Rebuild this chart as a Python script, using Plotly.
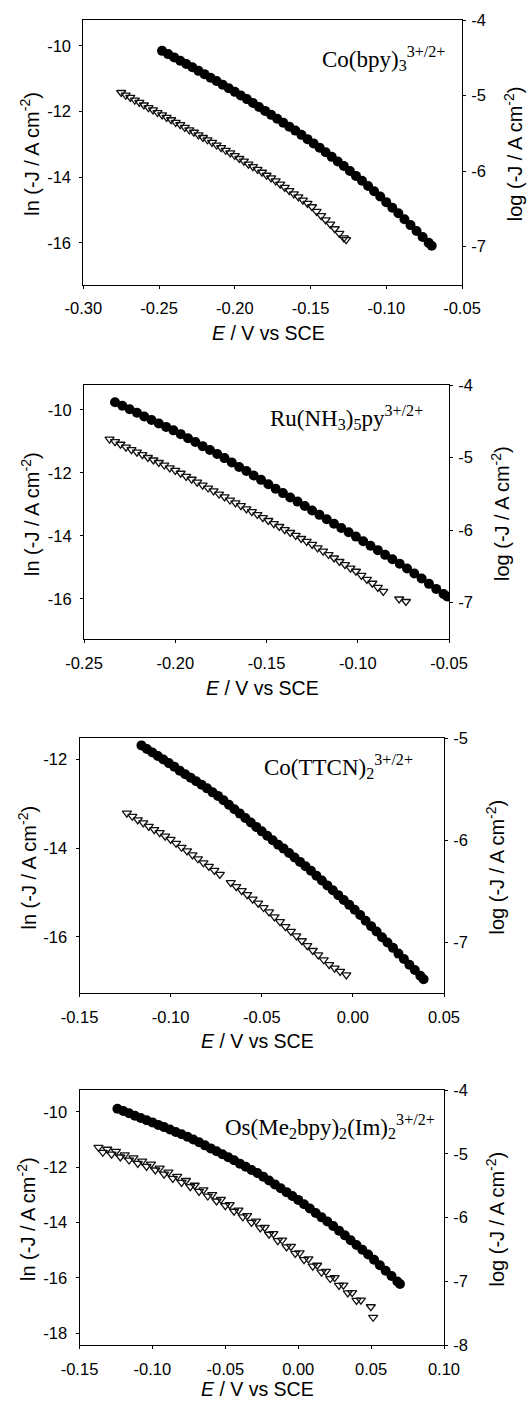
import math
import plotly.graph_objects as go

# ---------------- data ----------------
# Panel 1: Co(bpy)3
p1_circ_E = [-0.248, -0.244, -0.240, -0.236, -0.232, -0.228, -0.224, -0.220, -0.216, -0.212, -0.208, -0.204,
             -0.200, -0.196, -0.192, -0.188, -0.184, -0.180, -0.176, -0.172, -0.168, -0.164, -0.160, -0.156,
             -0.152, -0.148, -0.144, -0.140, -0.136, -0.132, -0.128, -0.124, -0.120, -0.116, -0.112, -0.108,
             -0.104, -0.100, -0.096, -0.092, -0.088, -0.084, -0.080, -0.076, -0.072, -0.070]
p1_circ_ln = [-10.15, -10.25, -10.35, -10.45, -10.55, -10.65, -10.76, -10.86, -10.97, -11.07, -11.18, -11.29,
              -11.40, -11.51, -11.62, -11.74, -11.86, -11.98, -12.10, -12.22, -12.34, -12.46, -12.58, -12.71,
              -12.84, -12.97, -13.10, -13.24, -13.38, -13.52, -13.66, -13.81, -13.96, -14.11, -14.27, -14.43,
              -14.59, -14.76, -14.93, -15.10, -15.28, -15.46, -15.64, -15.82, -16.00, -16.09]
p1_tri_E = [-0.275, -0.272, -0.269, -0.266, -0.263, -0.260, -0.257, -0.254, -0.251, -0.248, -0.245, -0.242,
            -0.239, -0.236, -0.233, -0.230, -0.227, -0.224, -0.221, -0.218, -0.215, -0.212, -0.209, -0.206,
            -0.203, -0.200, -0.197, -0.194, -0.191, -0.188, -0.185, -0.182, -0.179, -0.176, -0.173, -0.170,
            -0.167, -0.164, -0.161, -0.158, -0.155, -0.152, -0.149, -0.146, -0.143, -0.140, -0.137, -0.134,
            -0.131, -0.128, -0.1265]
p1_tri_ln = [-11.42, -11.50, -11.57, -11.65, -11.72, -11.80, -11.88, -11.95, -12.03, -12.10, -12.18, -12.25,
             -12.33, -12.40, -12.48, -12.56, -12.63, -12.71, -12.79, -12.86, -12.94, -13.02, -13.10, -13.18,
             -13.26, -13.34, -13.43, -13.51, -13.60, -13.68, -13.76, -13.85, -13.94, -14.02, -14.11, -14.21,
             -14.31, -14.41, -14.51, -14.60, -14.70, -14.80, -14.90, -15.04, -15.17, -15.30, -15.43, -15.57,
             -15.71, -15.85, -15.90]

# Panel 2: Ru(NH3)5py
p2_circ_E = [-0.233, -0.229, -0.225, -0.221, -0.217, -0.213, -0.209, -0.205, -0.201, -0.197, -0.193, -0.189,
             -0.185, -0.181, -0.177, -0.173, -0.169, -0.165, -0.161, -0.157, -0.153, -0.149, -0.145, -0.141,
             -0.137, -0.133, -0.129, -0.125, -0.121, -0.117, -0.113, -0.109, -0.105, -0.101, -0.097, -0.093,
             -0.089, -0.085, -0.081, -0.077, -0.073, -0.069, -0.065, -0.061, -0.057, -0.053, -0.051]
p2_circ_ln = [-9.76, -9.87, -9.98, -10.09, -10.21, -10.32, -10.43, -10.54, -10.65, -10.77, -10.90, -11.02,
              -11.15, -11.27, -11.40, -11.53, -11.67, -11.81, -11.94, -12.08, -12.22, -12.36, -12.50, -12.64,
              -12.78, -12.91, -13.05, -13.19, -13.33, -13.47, -13.61, -13.75, -13.88, -14.02, -14.17, -14.31,
              -14.45, -14.60, -14.74, -14.88, -15.03, -15.19, -15.35, -15.52, -15.68, -15.84, -15.92]
p2_tri_E = [-0.236, -0.233, -0.230, -0.227, -0.224, -0.221, -0.218, -0.215, -0.212, -0.209, -0.206, -0.203,
            -0.200, -0.197, -0.194, -0.191, -0.188, -0.185, -0.182, -0.179, -0.176, -0.173, -0.170, -0.167,
            -0.164, -0.161, -0.158, -0.155, -0.152, -0.149, -0.146, -0.143, -0.140, -0.137, -0.134, -0.131,
            -0.128, -0.125, -0.122, -0.119, -0.116, -0.113, -0.110, -0.107, -0.104, -0.101, -0.098, -0.095,
            -0.092, -0.089, -0.086, -0.0773, -0.0736]
p2_tri_ln = [-10.93, -11.01, -11.09, -11.18, -11.26, -11.34, -11.42, -11.51, -11.59, -11.67, -11.75, -11.84,
             -11.92, -12.01, -12.11, -12.20, -12.29, -12.39, -12.48, -12.57, -12.67, -12.76, -12.86, -12.95,
             -13.04, -13.14, -13.23, -13.32, -13.42, -13.51, -13.61, -13.70, -13.80, -13.89, -13.98, -14.08,
             -14.17, -14.27, -14.38, -14.48, -14.59, -14.70, -14.81, -14.91, -15.02, -15.12, -15.25, -15.38,
             -15.50, -15.63, -15.76, -16.00, -16.08]

# Panel 3: Co(TTCN)2
p3_circ_E = [-0.116, -0.113, -0.110, -0.107, -0.104, -0.101, -0.098, -0.095, -0.092, -0.089, -0.086, -0.083,
             -0.080, -0.077, -0.074, -0.071, -0.068, -0.065, -0.062, -0.059, -0.056, -0.053, -0.050, -0.047,
             -0.044, -0.041, -0.038, -0.035, -0.032, -0.029, -0.026, -0.023, -0.020, -0.017, -0.014, -0.011,
             -0.008, -0.005, -0.002, 0.001, 0.004, 0.007, 0.010, 0.013, 0.016, 0.019, 0.022, 0.025,
             0.028, 0.031, 0.034, 0.037, 0.0388]
p3_circ_ln = [-11.68, -11.76, -11.84, -11.92, -12.00, -12.08, -12.16, -12.25, -12.33, -12.41, -12.49, -12.57,
              -12.65, -12.74, -12.82, -12.92, -13.02, -13.12, -13.22, -13.32, -13.42, -13.52, -13.62, -13.72,
              -13.82, -13.92, -14.01, -14.11, -14.21, -14.31, -14.41, -14.51, -14.62, -14.73, -14.84, -14.95,
              -15.06, -15.17, -15.28, -15.39, -15.51, -15.64, -15.76, -15.88, -16.01, -16.13, -16.25, -16.38,
              -16.50, -16.63, -16.75, -16.88, -16.96]
p3_tri_E = [-0.124, -0.121, -0.118, -0.115, -0.112, -0.109, -0.106, -0.103, -0.100, -0.097, -0.094, -0.091,
            -0.088, -0.085, -0.082, -0.079, -0.076, -0.073, -0.067, -0.064, -0.061, -0.058, -0.055, -0.052,
            -0.049, -0.046, -0.043, -0.040, -0.037, -0.034, -0.031, -0.028, -0.025, -0.022, -0.019, -0.016,
            -0.013, -0.010, -0.007, -0.0036]
p3_tri_ln = [-13.21, -13.28, -13.36, -13.43, -13.51, -13.58, -13.65, -13.73, -13.80, -13.89, -13.98, -14.06,
             -14.15, -14.24, -14.33, -14.41, -14.50, -14.59, -14.78, -14.87, -14.96, -15.05, -15.15, -15.24,
             -15.34, -15.44, -15.55, -15.66, -15.77, -15.88, -15.98, -16.09, -16.20, -16.31, -16.41, -16.52,
             -16.63, -16.71, -16.78, -16.86]

# Panel 4: Os(Me2bpy)2(Im)2
p4_circ_E = [-0.124, -0.120, -0.116, -0.112, -0.108, -0.104, -0.100, -0.096, -0.092, -0.088, -0.084, -0.080,
             -0.076, -0.072, -0.068, -0.064, -0.060, -0.056, -0.052, -0.048, -0.044, -0.040, -0.036, -0.032,
             -0.028, -0.024, -0.020, -0.016, -0.012, -0.008, -0.004, 0.000, 0.004, 0.008, 0.012, 0.016,
             0.020, 0.024, 0.028, 0.032, 0.036, 0.040, 0.044, 0.048, 0.052, 0.056, 0.060, 0.064, 0.068, 0.0698]
p4_circ_ln = [-9.89, -9.97, -10.05, -10.14, -10.22, -10.30, -10.38, -10.47, -10.55, -10.64, -10.73, -10.81,
              -10.90, -11.00, -11.10, -11.21, -11.32, -11.42, -11.53, -11.64, -11.75, -11.87, -11.98, -12.10,
              -12.21, -12.34, -12.48, -12.62, -12.76, -12.90, -13.04, -13.18, -13.34, -13.49, -13.65, -13.81,
              -13.96, -14.12, -14.29, -14.46, -14.64, -14.81, -14.98, -15.15, -15.34, -15.54, -15.74, -15.93,
              -16.13, -16.22]
p4_tri_E = [-0.137, -0.134, -0.131, -0.128, -0.125, -0.122, -0.119, -0.116, -0.113, -0.110, -0.107, -0.104,
            -0.101, -0.098, -0.095, -0.092, -0.089, -0.086, -0.083, -0.080, -0.077, -0.074, -0.071, -0.068,
            -0.065, -0.062, -0.059, -0.056, -0.053, -0.050, -0.047, -0.044, -0.041, -0.038, -0.035, -0.032,
            -0.029, -0.026, -0.023, -0.020, -0.017, -0.014, -0.011, -0.008, -0.005, -0.002, 0.001, 0.004,
            0.007, 0.010, 0.013, 0.016, 0.019, 0.022, 0.025, 0.028, 0.031, 0.034, 0.037, 0.040, 0.043,
            0.0498, 0.0514]
p4_tri_ln = [-11.28, -11.46, -11.35, -11.53, -11.43, -11.63, -11.55, -11.74, -11.66, -11.86, -11.78, -11.97,
             -11.89, -12.10, -12.03, -12.25, -12.18, -12.40, -12.33, -12.55, -12.48, -12.70, -12.65, -12.87,
             -12.82, -13.04, -12.99, -13.22, -13.16, -13.39, -13.35, -13.59, -13.55, -13.79, -13.75, -13.99,
             -13.95, -14.19, -14.17, -14.42, -14.40, -14.65, -14.63, -14.88, -14.86, -15.11, -15.09, -15.34,
             -15.31, -15.57, -15.54, -15.79, -15.76, -16.02, -15.99, -16.27, -16.26, -16.54, -16.53, -16.81,
             -16.80, -17.04, -17.42]

# axis settings per panel
x_ranges = [[-0.30, -0.05], [-0.25, -0.05], [-0.15, 0.05], [-0.15, 0.10]]
x_ticks = [[-0.30, -0.25, -0.20, -0.15, -0.10, -0.05],
           [-0.25, -0.20, -0.15, -0.10, -0.05],
           [-0.15, -0.10, -0.05, 0.00, 0.05],
           [-0.15, -0.10, -0.05, 0.00, 0.05, 0.10]]
x_ticktext = [["-0.30", "-0.25", "-0.20", "-0.15", "-0.10", "-0.05"],
              ["-0.25", "-0.20", "-0.15", "-0.10", "-0.05"],
              ["-0.15", "-0.10", "-0.05", "0.00", "0.05"],
              ["-0.15", "-0.10", "-0.05", "0.00", "0.05", "0.10"]]
log_ranges = [[-7.5, -4.0], [-7.5, -4.0], [-7.5, -5.0], [-8.0, -4.0]]
ln_ticks = [[-10, -12, -14, -16], [-10, -12, -14, -16], [-12, -14, -16], [-10, -12, -14, -16, -18]]
log_ticks = [[-4, -5, -6, -7], [-4, -5, -6, -7], [-5, -6, -7], [-4, -5, -6, -7, -8]]
labels = ["Co(bpy)<sub>3</sub><sup>3+/2+</sup>",
          "Ru(NH<sub>3</sub>)<sub>5</sub>py<sup>3+/2+</sup>",
          "Co(TTCN)<sub>2</sub><sup>3+/2+</sup>",
          "Os(Me<sub>2</sub>bpy)<sub>2</sub>(Im)<sub>2</sub><sup>3+/2+</sup>"]

circ_E = [p1_circ_E, p2_circ_E, p3_circ_E, p4_circ_E]
circ_ln = [p1_circ_ln, p2_circ_ln, p3_circ_ln, p4_circ_ln]
tri_E = [p1_tri_E, p2_tri_E, p3_tri_E, p4_tri_E]
tri_ln = [p1_tri_ln, p2_tri_ln, p3_tri_ln, p4_tri_ln]

# ---------------- layout geometry (pixels) ----------------
W, H = 527, 1403
boxes = [(83.3, 462, 20, 284.5), (84, 449, 385, 639), (79.5, 444, 738, 993), (79.5, 444, 1090, 1345)]
xtitle_gap = [49, 49, 48, 44]
ytitle_left_x = [29.5, 30, 27, 26.5]
ytitle_right_x = [513, 500, 495, 495]
label_pos = [(320, 58), (268, 417), (262, 766), (223, 1126)]

def px(x):
    return x / W

def py(y):
    return 1 - y / H

LN10 = math.log(10)
SANS = "Liberation Sans, Arial, sans-serif"
SERIF = "Liberation Serif, Times New Roman, serif"

fig = go.Figure()
layout = dict(width=W, height=H, margin=dict(l=0, r=0, t=0, b=0, autoexpand=False),
              paper_bgcolor="white", plot_bgcolor="white", showlegend=False)
annotations = []
tickfont = dict(family=SANS, size=16.5, color="black")

for i in range(4):
    xl, xr, yt, yb = boxes[i]
    xname = "x" if i == 0 else f"x{i+1}"
    ylname = "y" if i == 0 else f"y{2*i+1}"
    yrname = f"y{2*i+2}"
    xkey = "xaxis" if i == 0 else f"xaxis{i+1}"
    ylkey = "yaxis" if i == 0 else f"yaxis{2*i+1}"
    yrkey = f"yaxis{2*i+2}"

    fig.add_trace(go.Scatter(x=tri_E[i], y=tri_ln[i], mode="markers", xaxis=xname, yaxis=ylname,
                             marker=dict(symbol="triangle-down-open", size=8, color="#111",
                                         line=dict(width=1.3, color="#111"))))
    fig.add_trace(go.Scatter(x=circ_E[i], y=circ_ln[i], mode="markers", xaxis=xname, yaxis=ylname,
                             marker=dict(symbol="circle", size=10, color="black",
                                         line=dict(width=0))))
    fig.add_trace(go.Scatter(x=[], y=[], mode="markers", xaxis=xname, yaxis=yrname, showlegend=False))

    lr = log_ranges[i]
    layout[xkey] = dict(domain=[px(xl), px(xr)], anchor=ylname, range=x_ranges[i],
                        tickvals=x_ticks[i], ticktext=x_ticktext[i], ticks="outside", ticklen=3,
                        tickcolor="black", showline=True, linecolor="black", linewidth=1, mirror=True,
                        showgrid=False, zeroline=False, ticklabelstandoff=6, tickfont=tickfont,
                        automargin=False)
    layout[ylkey] = dict(domain=[py(yb), py(yt)], anchor=xname, range=[lr[0] * LN10, lr[1] * LN10],
                         tickvals=ln_ticks[i], ticktext=[str(v) for v in ln_ticks[i]],
                         ticks="outside", ticklen=3, tickcolor="black", showline=True, linecolor="black",
                         linewidth=1, showgrid=False, zeroline=False, ticklabelstandoff=5,
                         tickfont=tickfont, automargin=False)
    layout[yrkey] = dict(domain=[py(yb), py(yt)], anchor=xname, overlaying=ylname, side="right",
                         range=lr, tickvals=log_ticks[i], ticktext=[str(v) for v in log_ticks[i]],
                         ticks="outside", ticklen=3, tickcolor="black", showline=True, linecolor="black",
                         linewidth=1, showgrid=False, zeroline=False, ticklabelstandoff=2,
                         tickfont=tickfont, automargin=False)

    # axis titles
    annotations.append(dict(text="<i>E</i> / V vs SCE", xref="paper", yref="paper",
                            x=px((xl + xr) / 2 - 4), y=py(yb + xtitle_gap[i]), xanchor="center",
                            yanchor="middle", showarrow=False,
                            font=dict(family=SANS, size=19.5, color="black")))
    annotations.append(dict(text="ln (-J / A cm<sup>-2</sup>)", xref="paper", yref="paper",
                            x=px(ytitle_left_x[i]), y=py((yt + yb) / 2 + 2), xanchor="center",
                            yanchor="middle", textangle=-90, showarrow=False,
                            font=dict(family=SANS, size=20, color="black")))
    annotations.append(dict(text="log (-J / A cm<sup>-2</sup>)", xref="paper", yref="paper",
                            x=px(ytitle_right_x[i]), y=py((yt + yb) / 2 + 2), xanchor="center",
                            yanchor="middle", textangle=-90, showarrow=False,
                            font=dict(family=SANS, size=20, color="black")))
    lx, ly = label_pos[i]
    annotations.append(dict(text=labels[i], xref="paper", yref="paper", x=px(lx), y=py(ly),
                            xanchor="left", yanchor="middle", showarrow=False,
                            font=dict(family=SERIF, size=23, color="black")))

layout["annotations"] = annotations
fig.update_layout(**layout)
fig.write_html("out.html")
